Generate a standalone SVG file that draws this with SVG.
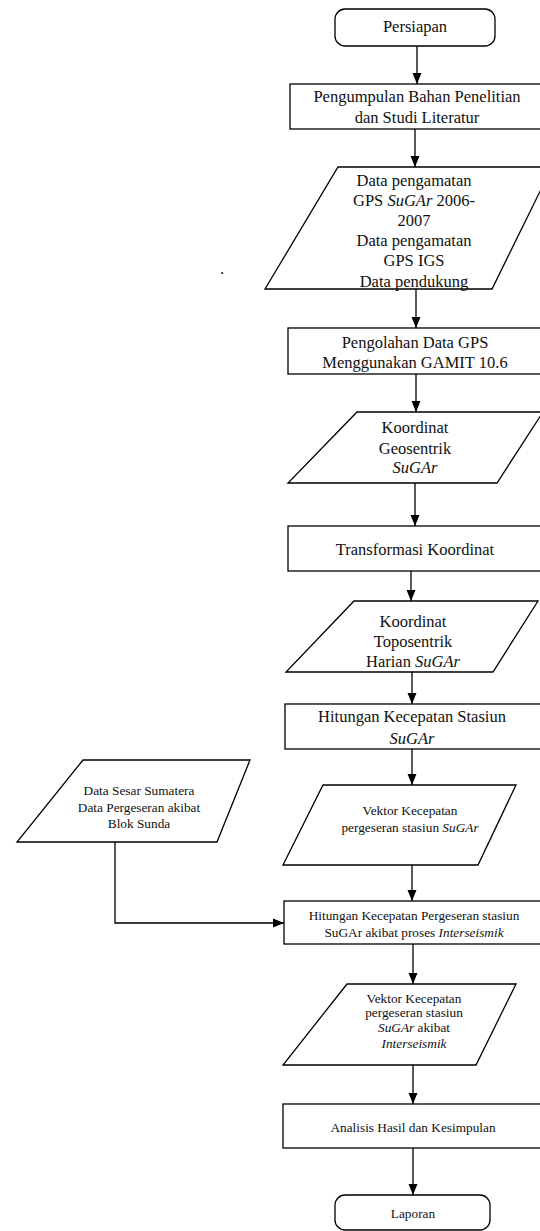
<svg xmlns="http://www.w3.org/2000/svg" width="540" height="1231" viewBox="0 0 540 1231">
<style>
.s{fill:#fff;stroke:#000;stroke-width:1.3}
.c{fill:none;stroke:#000;stroke-width:1.3}
.t{font-family:"Liberation Serif","Times New Roman",serif;font-size:16.5px;fill:#111;text-anchor:middle}
.m{font-family:"Liberation Serif","Times New Roman",serif;font-size:13.3px;fill:#111;text-anchor:middle}
.i{font-style:italic}
</style>
<defs>
<marker id="ah" markerUnits="userSpaceOnUse" markerWidth="11" markerHeight="10" refX="11" refY="5" orient="auto">
<path d="M0,0.5 L11,5 L0,9.5 z" fill="#000"/>
</marker>
</defs>
<rect width="540" height="1231" fill="#fff"/>
<g id="connectors">
<line class="c" x1="417" y1="46" x2="417" y2="84" marker-end="url(#ah)"/>
<line class="c" x1="415" y1="129" x2="415" y2="167" marker-end="url(#ah)"/>
<line class="c" x1="416" y1="289" x2="416" y2="328" marker-end="url(#ah)"/>
<line class="c" x1="416" y1="374" x2="416" y2="412" marker-end="url(#ah)"/>
<line class="c" x1="415" y1="483" x2="415" y2="526" marker-end="url(#ah)"/>
<line class="c" x1="411" y1="571" x2="411" y2="601" marker-end="url(#ah)"/>
<line class="c" x1="412" y1="672" x2="412" y2="704" marker-end="url(#ah)"/>
<line class="c" x1="412" y1="749" x2="412" y2="785" marker-end="url(#ah)"/>
<line class="c" x1="412" y1="865" x2="412" y2="901" marker-end="url(#ah)"/>
<polyline class="c" points="115,841 115,923 284,923" marker-end="url(#ah)"/>
<line class="c" x1="413" y1="944" x2="413" y2="984" marker-end="url(#ah)"/>
<line class="c" x1="413" y1="1065" x2="413" y2="1104" marker-end="url(#ah)"/>
<line class="c" x1="413" y1="1148" x2="413" y2="1195" marker-end="url(#ah)"/>
</g>
<g id="persiapan">
<rect class="s" x="335" y="9" width="160" height="37" rx="10"/>
<text class="t" x="415" y="32">Persiapan</text>
</g>
<g id="pengumpulan">
<rect class="s" x="290" y="84" width="260" height="45"/>
<text class="t" x="417" y="102">Pengumpulan Bahan Penelitian</text>
<text class="t" x="417" y="123">dan Studi Literatur</text>
</g>
<g id="data-pengamatan">
<polygon class="s" points="338,167 552,167 492,289 265,289"/>
<text class="t" x="414" y="186">Data pengamatan</text>
<text class="t" x="414" y="206">GPS <tspan class="i">SuGAr</tspan> 2006-</text>
<text class="t" x="414" y="226">2007</text>
<text class="t" x="414" y="246">Data pengamatan</text>
<text class="t" x="414" y="266">GPS IGS</text>
<text class="t" x="414" y="287">Data pendukung</text>
</g>
<text class="t" x="222" y="274">.</text>
<g id="pengolahan">
<rect class="s" x="288" y="328" width="262" height="46"/>
<text class="t" x="415" y="348">Pengolahan Data GPS</text>
<text class="t" x="415" y="368">Menggunakan GAMIT 10.6</text>
</g>
<g id="koordinat-geosentrik">
<polygon class="s" points="357,412 543,412 497,483 288,483"/>
<text class="t" x="415" y="433">Koordinat</text>
<text class="t" x="415" y="454">Geosentrik</text>
<text class="t i" x="415" y="473">SuGAr</text>
</g>
<g id="transformasi">
<rect class="s" x="288" y="526" width="262" height="45"/>
<text class="t" x="415" y="555">Transformasi Koordinat</text>
</g>
<g id="koordinat-toposentrik">
<polygon class="s" points="354,601 538,601 493,672 286,672"/>
<text class="t" x="413" y="627">Koordinat</text>
<text class="t" x="413" y="647">Toposentrik</text>
<text class="t" x="413" y="667">Harian <tspan class="i">SuGAr</tspan></text>
</g>
<g id="hitungan-stasiun">
<rect class="s" x="285" y="704" width="265" height="45"/>
<text class="t" x="412" y="722">Hitungan Kecepatan Stasiun</text>
<text class="t i" x="412" y="744">SuGAr</text>
</g>
<g id="vektor-kecepatan">
<polygon class="s" points="323,785 516,785 478,865 283,865"/>
<text class="m" x="410" y="815">Vektor Kecepatan</text>
<text class="m" x="410" y="832">pergeseran stasiun <tspan class="i">SuGAr</tspan></text>
</g>
<g id="data-sesar">
<polygon class="s" points="83,760 250,760 217,842 17,842"/>
<text class="m" x="139" y="795">Data Sesar Sumatera</text>
<text class="m" x="139" y="812">Data Pergeseran akibat</text>
<text class="m" x="139" y="828">Blok Sunda</text>
</g>
<g id="hitungan-pergeseran">
<rect class="s" x="284" y="901" width="266" height="43"/>
<text class="m" x="414" y="920">Hitungan Kecepatan Pergeseran stasiun</text>
<text class="m" x="414" y="937">SuGAr akibat proses <tspan class="i">Interseismik</tspan></text>
</g>
<g id="vektor-interseismik">
<polygon class="s" points="347,984 516,984 476,1065 283,1065"/>
<text class="m" x="414" y="1003">Vektor Kecepatan</text>
<text class="m" x="414" y="1017">pergeseran stasiun</text>
<text class="m" x="414" y="1032"><tspan class="i">SuGAr</tspan> akibat</text>
<text class="m i" x="414" y="1048">Interseismik</text>
</g>
<g id="analisis">
<rect class="s" x="283" y="1104" width="267" height="44"/>
<text class="m" x="413" y="1132">Analisis Hasil dan Kesimpulan</text>
</g>
<g id="laporan">
<rect class="s" x="335" y="1195" width="155" height="35" rx="10"/>
<text class="m" x="413" y="1218">Laporan</text>
</g>
</svg>
